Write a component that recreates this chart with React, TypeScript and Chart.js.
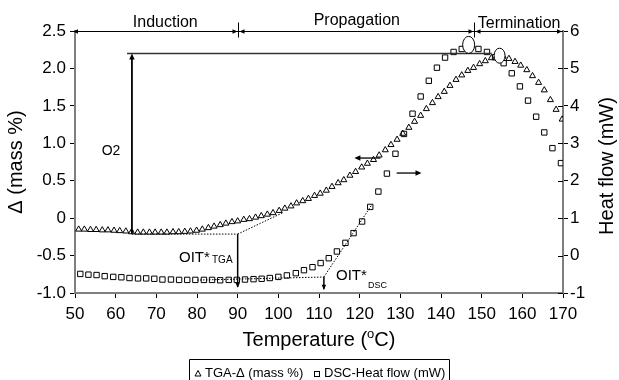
import React, { useEffect, useRef } from 'react';
import { Chart, registerables } from 'chart.js';

Chart.register(...registerables);

// ---- Data ----
const tgaTemp = [
  50.9, 52.3, 53.8, 55.2, 56.7, 58.1, 59.6, 61.0, 62.5, 63.9, 65.4, 66.8, 68.3, 69.7, 71.2, 72.6,
  74.1, 75.5, 77.0, 78.4, 79.9, 81.3, 82.8, 84.2, 85.7, 87.1, 88.6, 90.0, 91.5, 92.9, 94.4, 95.8,
  97.3, 98.7, 100.2, 101.6, 103.1, 104.5, 106.0, 107.4, 108.9, 110.3, 111.8, 113.2, 114.7, 116.1,
  117.6, 119.0, 120.5, 121.9, 123.4, 124.8, 126.3, 127.7, 129.2, 130.6, 132.1, 133.5, 135.0, 136.4,
  137.9, 139.3, 140.8, 142.2, 143.7, 145.1, 146.6, 148.0, 149.5, 150.9, 152.4, 153.8, 155.3, 156.7,
  158.2, 159.6, 161.1, 162.5, 164.0, 165.4, 166.9, 168.3, 169.8,
];
const tgaMass = [
  -0.15, -0.15, -0.155, -0.155, -0.16, -0.16, -0.165, -0.17, -0.175, -0.185, -0.19, -0.19, -0.19, -0.19, -0.19, -0.19,
  -0.185, -0.185, -0.18, -0.175, -0.165, -0.15, -0.13, -0.11, -0.09, -0.07, -0.05, -0.04, -0.02, -0.01, 0.01, 0.03,
  0.05, 0.07, 0.10, 0.13, 0.16, 0.20, 0.23, 0.26, 0.30, 0.33, 0.37, 0.42, 0.47, 0.51,
  0.57, 0.62, 0.68, 0.73, 0.78, 0.84, 0.91, 0.98, 1.05, 1.13, 1.21, 1.29, 1.37, 1.46,
  1.54, 1.62, 1.69, 1.77, 1.85, 1.91, 1.97, 2.01, 2.06, 2.10, 2.14, 2.17, 2.16, 2.13,
  2.09, 2.04, 1.98, 1.90, 1.81, 1.71, 1.58, 1.45, 1.32,
];
const dscTemp = [
  51.3, 53.3, 55.3, 57.3, 59.4, 61.4, 63.4, 65.5, 67.5, 69.5, 71.5, 73.6, 75.6, 77.6, 79.6, 81.7,
  83.7, 85.7, 87.8, 89.8, 91.8, 93.9, 95.9, 97.9, 100.0, 102.1, 104.3, 106.3, 108.4, 110.4, 112.4,
  114.4, 116.5, 118.5, 120.6, 122.6, 124.6, 126.7, 128.8, 130.9, 133.0, 135.0, 137.0, 139.0, 141.0,
  143.1, 145.1, 147.1, 149.2, 151.3, 153.3, 155.4, 157.4, 159.4, 161.4, 163.4, 165.4, 167.4, 169.5,
];
const dscHeat = [
  -0.49, -0.51, -0.52, -0.55, -0.57, -0.58, -0.60, -0.61, -0.61, -0.62, -0.64, -0.64, -0.65, -0.65, -0.65, -0.65,
  -0.65, -0.66, -0.65, -0.65, -0.64, -0.63, -0.62, -0.60, -0.57, -0.53, -0.47, -0.39, -0.31, -0.20, -0.07,
  0.11, 0.34, 0.60, 0.91, 1.30, 1.71, 2.19, 2.72, 3.25, 3.79, 4.25, 4.67, 5.02, 5.29,
  5.44, 5.52, 5.56, 5.52, 5.44, 5.30, 5.14, 4.87, 4.52, 4.14, 3.71, 3.29, 2.87, 2.47,
];

const xTickValues = [50, 60, 70, 80, 90, 100, 110, 120, 130, 140, 150, 160, 170];
const leftTickValues = [-1, -0.5, 0, 0.5, 1, 1.5, 2, 2.5];
const rightTickValues = [-1, 0, 1, 2, 3, 4, 5, 6];

const phaseBounds = [50, 90, 148, 170];
const phaseLabels = ['Induction', 'Propagation', 'Termination'];
const seriesNames = ['TGA-\u0394 (mass %)', 'DSC-Heat flow (mW)'];

const FONT = '"Liberation Sans", Arial, Helvetica, sans-serif';

function arrowHead(ctx: CanvasRenderingContext2D, x: number, y: number, dir: string, s = 5) {
  ctx.beginPath();
  if (dir === 'left') { ctx.moveTo(x, y); ctx.lineTo(x + s, y - s * 0.45); ctx.lineTo(x + s, y + s * 0.45); }
  if (dir === 'right') { ctx.moveTo(x, y); ctx.lineTo(x - s, y - s * 0.45); ctx.lineTo(x - s, y + s * 0.45); }
  if (dir === 'up') { ctx.moveTo(x, y); ctx.lineTo(x - s * 0.45, y + s); ctx.lineTo(x + s * 0.45, y + s); }
  if (dir === 'down') { ctx.moveTo(x, y); ctx.lineTo(x - s * 0.45, y - s); ctx.lineTo(x + s * 0.45, y - s); }
  ctx.closePath();
  ctx.fill();
}

function line(ctx: CanvasRenderingContext2D, x1: number, y1: number, x2: number, y2: number, w = 1, dash: number[] = [], color = '#000') {
  ctx.save();
  ctx.strokeStyle = color;
  ctx.lineWidth = w;
  ctx.setLineDash(dash);
  ctx.beginPath();
  ctx.moveTo(x1, y1);
  ctx.lineTo(x2, y2);
  ctx.stroke();
  ctx.restore();
}

const annotationPlugin = {
  id: 'annotations',
  afterDraw(chart: any) {
    const ctx: CanvasRenderingContext2D = chart.ctx;
    const xs = chart.scales.x;
    const yl = chart.scales.yL;
    const yr = chart.scales.yR;
    const X = (v: number) => xs.getPixelForValue(v);
    const YL = (v: number) => yl.getPixelForValue(v);
    const YR = (v: number) => yr.getPixelForValue(v);
    const area = chart.chartArea;
    ctx.save();
    ctx.fillStyle = '#000';
    ctx.strokeStyle = '#000';

    // inward ticks on right axis
    rightTickValues.forEach((v) => line(ctx, area.right - 5, Math.round(YR(v)) + 0.5, area.right, Math.round(YR(v)) + 0.5, 1, [], '#000'));

    // phase arrows along top
    const topY = Math.round(YL(2.5)) + 0.5;
    line(ctx, X(phaseBounds[0]), topY, X(phaseBounds[3]), topY, 1);
    arrowHead(ctx, X(phaseBounds[0]) - 2, topY, 'left');
    arrowHead(ctx, X(phaseBounds[3]) - 1, topY, 'right');
    [phaseBounds[1], phaseBounds[2]].forEach((b) => {
      const px = Math.round(X(b)) + 0.5;
      line(ctx, px, topY - 9, px, topY + 6, 1);
      arrowHead(ctx, px - 1, topY, 'right');
      arrowHead(ctx, px + 1, topY, 'left');
    });
    ctx.font = '16px ' + FONT;
    ctx.textAlign = 'center';
    ctx.textBaseline = 'alphabetic';
    ctx.fillText(phaseLabels[0], X(72.2), 27);
    ctx.fillText(phaseLabels[1], X(119.3), 25);
    ctx.fillText(phaseLabels[2], X(159.2), 28);

    // O2 horizontal reference line and vertical double arrow
    const y22 = YL(2.2);
    line(ctx, X(62.8), y22, X(152.5), y22, 1.5, [], '#333');
    line(ctx, X(64), YL(-0.21), X(64), y22 + 3, 1.8);
    arrowHead(ctx, X(64), y22, 'up', 6);
    arrowHead(ctx, X(64), YL(-0.215), 'down', 4);
    ctx.font = '14px ' + FONT;
    ctx.textAlign = 'center';
    ctx.fillText('O2', 111, 155);

    // TGA baseline (dotted) and tangent
    line(ctx, X(64), YL(-0.213), X(90), YL(-0.213), 1, [1.5, 1.5]);
    line(ctx, X(90), YL(-0.213), X(101), YL(0.07), 1, [1.5, 1.5]);
    line(ctx, X(90), YL(-0.213), X(90), YL(-0.92), 1.5);
    arrowHead(ctx, X(90), YL(-0.93), 'down', 5);
    ctx.textAlign = 'left';
    ctx.font = '15px ' + FONT;
    ctx.fillText('OIT*', 179, 262);
    ctx.font = '10px ' + FONT;
    ctx.fillText('TGA', 212, 263);

    // DSC baseline (dotted) and tangent
    line(ctx, X(80), YR(-0.655), X(111.2), YR(-0.573), 1, [1.5, 1.5]);
    line(ctx, X(111.2), YR(-0.573), X(123), YR(1.36), 1, [1.5, 1.5]);
    line(ctx, X(111.2), YR(-0.573), X(111.2), YR(-0.9), 1.5);
    arrowHead(ctx, X(111.2), YR(-0.91), 'down', 5);
    ctx.font = '15px ' + FONT;
    ctx.fillText('OIT*', 336, 280);
    ctx.font = '9px ' + FONT;
    ctx.fillText('DSC', 368, 288);

    // axis pointer arrows
    line(ctx, X(125.1), YL(0.803), X(119.2), YL(0.803), 1.3);
    arrowHead(ctx, X(118.7), YL(0.803), 'left', 6);
    line(ctx, X(129.1), YR(2.205), X(134.6), YR(2.205), 1.3);
    arrowHead(ctx, X(135.2), YR(2.205), 'right', 6);

    // peak ellipses
    ctx.lineWidth = 1;
    ctx.fillStyle = '#fff';
    ctx.beginPath();
    ctx.ellipse(X(146.8), YR(5.63), 6, 8.5, 0, 0, Math.PI * 2);
    ctx.fill();
    ctx.stroke();
    ctx.beginPath();
    ctx.ellipse(X(154.4), YL(2.17), 5.5, 7.5, 0, 0, Math.PI * 2);
    ctx.fill();
    ctx.stroke();
    ctx.fillStyle = '#000';

    // axis titles
    ctx.font = '20px ' + FONT;
    ctx.textAlign = 'center';
    ctx.textBaseline = 'middle';
    ctx.save();
    ctx.translate(16, (area.top + area.bottom) / 2);
    ctx.rotate(-Math.PI / 2);
    ctx.fillText('\u0394 (mass %)', 0, 0);
    ctx.restore();
    ctx.save();
    ctx.translate(607, (area.top + area.bottom) / 2 + 4);
    ctx.rotate(-Math.PI / 2);
    ctx.fillText('Heat flow (mW)', 0, 0);
    ctx.restore();

    // x title with superscript o
    ctx.textBaseline = 'alphabetic';
    ctx.textAlign = 'left';
    const p1 = 'Temperature (';
    const p2 = 'o';
    const p3 = 'C)';
    ctx.font = '20px ' + FONT;
    const w1 = ctx.measureText(p1).width;
    const w3 = ctx.measureText(p3).width;
    ctx.font = '13px ' + FONT;
    const w2 = ctx.measureText(p2).width;
    const total = w1 + w2 + w3;
    let tx = (area.left + area.right) / 2 - total / 2;
    const base = 346;
    ctx.font = '20px ' + FONT;
    ctx.fillText(p1, tx, base);
    tx += w1;
    ctx.font = '13px ' + FONT;
    ctx.fillText(p2, tx, base - 8);
    tx += w2;
    ctx.font = '20px ' + FONT;
    ctx.fillText(p3, tx, base);

    // legend
    ctx.lineWidth = 1;
    ctx.strokeStyle = '#000';
    ctx.beginPath();
    ctx.moveTo(189.5, 384);
    ctx.lineTo(189.5, 359.5);
    ctx.lineTo(449.5, 359.5);
    ctx.lineTo(449.5, 384);
    ctx.stroke();
    // triangle marker
    ctx.beginPath();
    ctx.moveTo(198, 370.5);
    ctx.lineTo(201, 376);
    ctx.lineTo(195, 376);
    ctx.closePath();
    ctx.stroke();
    ctx.font = '13px ' + FONT;
    ctx.fillText(seriesNames[0], 205, 377);
    ctx.strokeRect(314.5, 371.5, 5, 5);
    ctx.fillText(seriesNames[1], 324, 377);

    ctx.restore();
  },
};

export default function App() {
  const ref = useRef<HTMLCanvasElement>(null);
  useEffect(() => {
    if (!ref.current) return;
    Chart.defaults.font.family = FONT;
    Chart.defaults.color = '#000';
    const chart = new Chart(ref.current, {
      type: 'scatter',
      data: {
        datasets: [
          {
            label: seriesNames[0],
            data: tgaTemp.map((t, i) => ({ x: t, y: tgaMass[i] })),
            yAxisID: 'yL',
            pointStyle: 'triangle',
            pointRadius: 3.5,
            borderColor: '#000',
            backgroundColor: 'rgba(0,0,0,0)',
            borderWidth: 1,
            showLine: false,
          },
          {
            label: seriesNames[1],
            data: dscTemp.map((t, i) => ({ x: t, y: dscHeat[i] })),
            yAxisID: 'yR',
            pointStyle: 'rect',
            pointRadius: 3.8,
            borderColor: '#000',
            backgroundColor: 'rgba(0,0,0,0)',
            borderWidth: 1,
            showLine: false,
          },
        ],
      },
      options: {
        responsive: false,
        animation: false,
        events: [],
        layout: { padding: { top: 31, left: 0, right: 0, bottom: 0 } },
        plugins: { legend: { display: false }, tooltip: { enabled: false }, title: { display: false } },
        scales: {
          x: {
            type: 'linear',
            min: 50,
            max: 170,
            afterBuildTicks: (s: any) => { s.ticks = xTickValues.map((v) => ({ value: v })); },
            ticks: { font: { size: 17, family: FONT }, color: '#000', padding: 6, maxRotation: 0, autoSkip: false },
            grid: { display: true, drawOnChartArea: false, drawTicks: true, tickLength: 5, color: '#000', lineWidth: 1 },
            border: { display: true, color: '#7f7f7f', width: 2 },
            afterFit: (s: any) => { s.height = 87; },
          },
          yL: {
            type: 'linear',
            position: 'left',
            min: -1,
            max: 2.5,
            afterBuildTicks: (s: any) => { s.ticks = leftTickValues.map((v) => ({ value: v })); },
            ticks: { font: { size: 17, family: FONT }, color: '#000', padding: 4, autoSkip: false },
            grid: { display: true, drawOnChartArea: false, drawTicks: true, tickLength: 5, color: '#000', lineWidth: 1 },
            border: { display: true, color: '#7f7f7f', width: 2 },
            afterFit: (s: any) => { s.width = 75; },
          },
          yR: {
            type: 'linear',
            position: 'right',
            min: -1,
            max: 6,
            afterBuildTicks: (s: any) => { s.ticks = rightTickValues.map((v) => ({ value: v })); },
            ticks: { font: { size: 17, family: FONT }, color: '#000', padding: 2, autoSkip: false },
            grid: { display: true, drawOnChartArea: false, drawTicks: true, tickLength: 5, color: '#000', lineWidth: 1 },
            border: { display: true, color: '#7f7f7f', width: 2 },
            afterFit: (s: any) => { s.width = 56; },
          },
        },
      },
      plugins: [annotationPlugin],
    } as any);
    return () => chart.destroy();
  }, []);
  return (
    <div style={{ position: 'absolute', left: 0, top: 0, width: 619, height: 380, background: '#fff' }}>
      <canvas ref={ref} width={619} height={380} style={{ display: 'block' }} />
    </div>
  );
}
